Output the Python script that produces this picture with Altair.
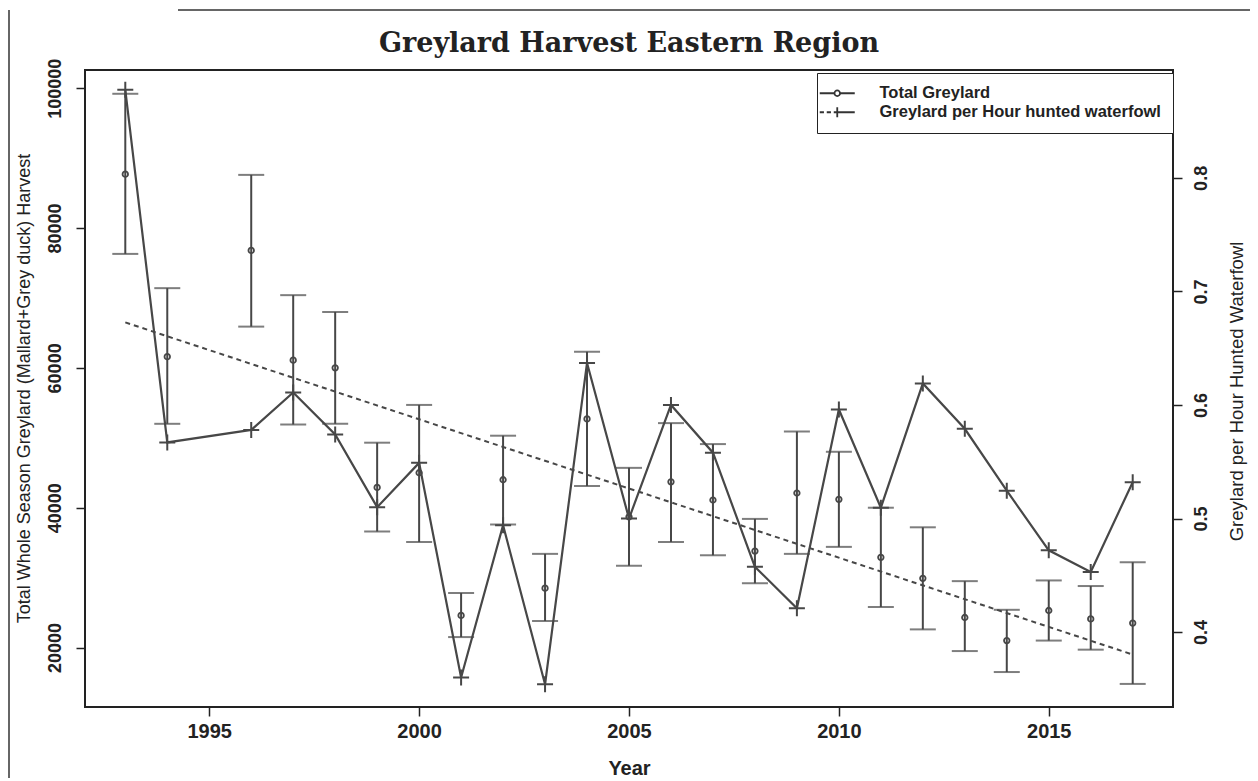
import altair as alt
import pandas as pd

# ---------------- data ----------------
years = [1993, 1994, 1996, 1997, 1998, 1999, 2000, 2001, 2002, 2003, 2004, 2005,
         2006, 2007, 2008, 2009, 2010, 2011, 2012, 2013, 2014, 2015, 2016, 2017]
total = [87700, 61600, 76800, 61100, 60000, 42900, 45000, 24600, 44000, 28500, 52700, 38700,
         43700, 41100, 33800, 42100, 41200, 32900, 29900, 24300, 21000, 25300, 24100, 23500]
lower = [76300, 52000, 65900, 51900, 52000, 36600, 35100, 21500, 37600, 23800, 43100, 31700,
         35100, 33200, 29200, 33400, 34400, 25800, 22600, 19500, 16500, 21000, 19700, 14800]
upper = [99200, 71400, 87600, 70400, 68000, 49300, 54700, 27800, 50300, 33400, 62300, 45700,
         52100, 49100, 38400, 50900, 48000, 40000, 37200, 29500, 25400, 29600, 28800, 32200]
per_hour = [0.8775, 0.567, 0.578, 0.611, 0.574, 0.510, 0.549, 0.360, 0.494, 0.354, 0.637, 0.500,
            0.600, 0.558, 0.4575, 0.421, 0.596, 0.5095, 0.619, 0.579, 0.5245, 0.472, 0.453, 0.532]
trend_years = [1993, 2017]
trend_values = [66500, 19000]
series_names = ["Total Greylard", "Greylard per Hour hunted waterfowl"]
x_ticks = [1995, 2000, 2005, 2010, 2015]
left_ticks = [20000, 40000, 60000, 80000, 100000]
right_ticks = [0.4, 0.5, 0.6, 0.7, 0.8]

df = pd.DataFrame({"year": years, "total": total, "lower": lower,
                   "upper": upper, "per_hour": per_hour})
trend_df = pd.DataFrame({"year": trend_years, "value": trend_values})
legend_df = pd.DataFrame({"series": series_names})
frame_df = pd.DataFrame({"k": [0]})

ink = "#474747"
dark = "#222222"
sans = "Liberation Sans"

x_scale = alt.Scale(domain=[1992.04, 2017.96], nice=False, zero=False)
left_scale = alt.Scale(domain=[11500, 102600], nice=False, zero=False)
right_scale = alt.Scale(domain=[0.334, 0.895], nice=False, zero=False)

x_axis = alt.Axis(values=x_ticks, format="d", title="Year",
                  labelFont=sans, labelFontSize=20, labelFontWeight="bold",
                  labelColor=dark, labelPadding=5, tickSize=9, tickWidth=1.5,
                  tickColor=dark, domain=False, grid=False,
                  titleFont=sans, titleFontSize=20, titleFontWeight="bold",
                  titleColor=dark, titleY=61, titleBaseline="middle")

left_axis = alt.Axis(values=left_ticks, format="d",
                     title="Total Whole Season Greylard (Mallard+Grey duck) Harvest",
                     labelFont=sans, labelFontSize=18, labelFontWeight="bold",
                     labelColor=dark, labelAngle=270, labelAlign="center",
                     labelBaseline="bottom", labelPadding=12,
                     tickSize=9, tickWidth=1.5, tickColor=dark,
                     domain=False, grid=False,
                     titleFont=sans, titleFontSize=18, titleFontWeight="normal",
                     titleColor=dark, titleAngle=270, titleX=-61, titleY=318,
                     titleAlign="center", titleBaseline="middle")

right_axis = alt.Axis(values=right_ticks, format=".1f", orient="right",
                      title="Greylard per Hour Hunted Waterfowl",
                      labelFont=sans, labelFontSize=18, labelFontWeight="bold",
                      labelColor=dark, labelAngle=270, labelAlign="center",
                      labelBaseline="top", labelPadding=10,
                      tickSize=9, tickWidth=1.5, tickColor=dark,
                      domain=False, grid=False,
                      titleFont=sans, titleFontSize=18.5, titleFontWeight="normal",
                      titleColor=dark, titleAngle=270, titleX=63, titleY=321,
                      titleAlign="center", titleBaseline="middle")

X = alt.X("year:Q", scale=x_scale, axis=x_axis)

base = alt.Chart(df)

bars = base.mark_rule(color=ink, strokeWidth=2).encode(
    x=X, y=alt.Y("lower:Q", scale=left_scale, axis=left_axis), y2="upper:Q")
cap_lo = base.mark_tick(orient="horizontal", size=26, thickness=2, color=ink).encode(
    x=X, y=alt.Y("lower:Q", scale=left_scale, axis=left_axis))
cap_hi = base.mark_tick(orient="horizontal", size=26, thickness=2, color=ink).encode(
    x=X, y=alt.Y("upper:Q", scale=left_scale, axis=left_axis))
circles = base.mark_point(shape="circle", filled=False, size=30, strokeWidth=1.8,
                          color=ink, opacity=1).encode(
    x=X, y=alt.Y("total:Q", scale=left_scale, axis=left_axis))
trend = alt.Chart(trend_df).mark_line(strokeDash=[5, 4], strokeWidth=2, color=ink).encode(
    x=X, y=alt.Y("value:Q", scale=left_scale, axis=left_axis))

left = alt.layer(bars, cap_lo, cap_hi, circles, trend)

line = base.mark_line(color=ink, strokeWidth=2.2).encode(
    x=X, y=alt.Y("per_hour:Q", scale=right_scale, axis=right_axis))
plus = base.mark_point(shape="M-1,0H1M0,-1V1", size=256, strokeWidth=2,
                       filled=False, color=ink, opacity=1).encode(
    x=X, y=alt.Y("per_hour:Q", scale=right_scale, axis=right_axis))

right = alt.layer(line, plus)

sym_total = "M-2.5,0H-0.4M0.4,0H2.5M0.4,0A0.4,0.4 0 1,1 -0.4,0A0.4,0.4 0 1,1 0.4,0"
sym_hour = "M-2.5,0H-1.9M-1.5,0H-0.9M-0.5,0H2.5M0,-0.7V0.7"

legend_layer = alt.Chart(legend_df).mark_point(opacity=0, filled=False, color="#333").encode(
    x=alt.value(0), y=alt.value(0),
    shape=alt.Shape("series:N",
                    scale=alt.Scale(domain=series_names, range=[sym_total, sym_hour]),
                    legend=alt.Legend(title=None, orient="none", legendX=732, legendY=3,
                                      padding=12, strokeColor=dark, fillColor="white",
                                      symbolSize=196, symbolStrokeWidth=1.8,
                                      symbolStrokeColor="#333", symbolOpacity=1,
                                      labelFont=sans, labelFontSize=16.5,
                                      labelFontWeight="bold", labelColor=dark,
                                      labelOffset=34, rowPadding=1, labelLimit=0)))

# scanned page frame around the figure
frame_left = alt.Chart(frame_df).mark_rule(color="#333", strokeWidth=1.5).encode(
    x=alt.value(-76), y=alt.value(-60), y2=alt.value(708))
frame_top = alt.Chart(frame_df).mark_rule(color="#333", strokeWidth=1.5).encode(
    x=alt.value(93), x2=alt.value(1165), y=alt.value(-60))

chart = alt.layer(left, right, legend_layer, frame_left, frame_top).resolve_scale(
    y="independent").properties(
    width=1088, height=637,
    padding={"left": 77, "top": 62, "right": 77, "bottom": 73},
    autosize=alt.AutoSizeParams(type="none"),
    title=alt.TitleParams("Greylard Harvest Eastern Region", font="DejaVu Serif",
                          fontSize=27, fontWeight="bold", color=dark,
                          anchor="middle", baseline="bottom", offset=2, dy=78),
    background="white",
).configure_view(stroke=dark, strokeWidth=2)

chart.save("out.html", embed_options={"renderer": "svg", "actions": False})
